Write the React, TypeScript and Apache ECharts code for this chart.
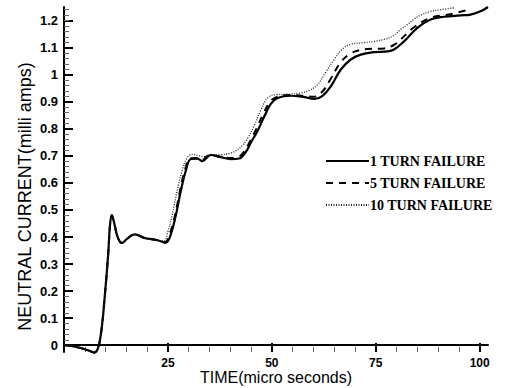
import React, { useEffect, useRef } from "react";
import * as echarts from "echarts";

const seriesNames = ["1 TURN FAILURE", "5 TURN FAILURE", "10 TURN FAILURE"];

const timeOne = [0, 2, 4, 6, 7.3, 8.2, 9, 9.8, 10.6, 11.1, 11.5, 12.1, 12.9, 13.9, 15.3, 17, 19.3, 22.5, 24.5, 25.7, 26.9, 28.1, 29.3, 30.5, 32.1, 33.3, 35.3, 37.7, 40.1, 42.1, 43.8, 45, 46.5, 48.2, 49.8, 51.4, 54.6, 57.8, 60.2, 62.2, 64.2, 66.6, 69, 71.4, 74.6, 77.8, 79.4, 81.8, 85, 88.2, 91.4, 95.4, 97.8, 100.2, 102];
const valueOne = [0, -0.003, -0.01, -0.02, -0.027, -0.01, 0.055, 0.18, 0.33, 0.45, 0.48, 0.45, 0.4, 0.378, 0.395, 0.41, 0.397, 0.388, 0.379, 0.41, 0.48, 0.57, 0.645, 0.688, 0.69, 0.68, 0.703, 0.695, 0.688, 0.69, 0.716, 0.75, 0.79, 0.846, 0.893, 0.914, 0.922, 0.917, 0.91, 0.922, 0.957, 1.019, 1.056, 1.074, 1.083, 1.086, 1.093, 1.123, 1.173, 1.204, 1.214, 1.219, 1.222, 1.234, 1.25];

const timeFive = [0, 2, 4, 6, 7.3, 8.2, 9, 9.8, 10.6, 11.1, 11.5, 12.1, 12.9, 13.9, 15.3, 17, 19.3, 22.5, 24.3, 25.5, 26.7, 27.9, 29.1, 30.3, 31.8, 33, 35, 37.5, 40, 42, 43.5, 44.8, 46.3, 48, 49.6, 51.2, 54.5, 57.5, 60, 62, 64, 66.3, 68.6, 71, 73, 77, 79.4, 81, 84.2, 88.2, 92.6, 97.3];
const valueFive = [0, -0.003, -0.01, -0.02, -0.027, -0.01, 0.055, 0.18, 0.33, 0.45, 0.48, 0.45, 0.4, 0.378, 0.395, 0.41, 0.397, 0.388, 0.38, 0.415, 0.48, 0.57, 0.648, 0.69, 0.692, 0.682, 0.703, 0.697, 0.692, 0.696, 0.72, 0.755, 0.8, 0.857, 0.9, 0.918, 0.925, 0.922, 0.918, 0.935, 0.98, 1.04, 1.075, 1.09, 1.095, 1.097, 1.11, 1.13, 1.175, 1.21, 1.222, 1.24];

const timeTen = [0, 2, 4, 6, 7.3, 8.2, 9, 9.8, 10.6, 11.1, 11.5, 12.1, 12.9, 13.9, 15.3, 17, 19.3, 22.5, 24, 25, 26, 27.2, 28.4, 29.7, 31, 32.5, 33.7, 35.5, 37.7, 40, 41.5, 43, 44.2, 45.7, 47.4, 49, 51, 54, 57, 59, 61, 63, 65, 67, 69, 72, 74.6, 77, 79.4, 81, 82.6, 84.2, 85.8, 88, 90.6, 93.8];
const valueTen = [0, -0.003, -0.01, -0.02, -0.027, -0.01, 0.055, 0.18, 0.33, 0.45, 0.48, 0.45, 0.4, 0.378, 0.395, 0.41, 0.397, 0.388, 0.385, 0.42, 0.48, 0.57, 0.645, 0.695, 0.705, 0.7, 0.697, 0.705, 0.704, 0.71, 0.72, 0.74, 0.765, 0.81, 0.87, 0.914, 0.926, 0.928, 0.932, 0.942, 0.963, 1.01, 1.056, 1.095, 1.112, 1.118, 1.123, 1.13, 1.145, 1.167, 1.185, 1.205, 1.22, 1.233, 1.24, 1.247];

const xLabelValues = [25, 50, 75, 100];
const yLabelValues = [0, 0.1, 0.2, 0.3, 0.4, 0.5, 0.6, 0.7, 0.8, 0.9, 1, 1.1, 1.2];
const xTickMax = 100;
const xTickInterval = 25;
const yTickMax = 1.2;
const yTickInterval = 0.1;
const yTopMinorMax = 1.24;
const yTopMinorInterval = 0.02;

const zip = (t: number[], v: number[]) => t.map((x, i) => [x, v[i]]);

export default function App() {
  const ref = useRef<HTMLDivElement>(null);
  useEffect(() => {
    if (!ref.current) return;
    const chart = echarts.init(ref.current, null, { renderer: "svg" });
    const W = 522, H = 388;
    const plot = { left: 64, right: 34, top: 7, bottom: 36 };
    const xMin = 0, xMax = 102, yMin = -0.025, yMax = 1.25;
    const pxPerX = (W - plot.left - plot.right) / (xMax - xMin);
    const pxPerY = (H - plot.top - plot.bottom) / (yMax - yMin);
    const xTickGridRight = plot.right + (xMax - xTickMax) * pxPerX;
    const yTickGridTop = plot.top + (yMax - yTickMax) * pxPerY;
    const yTickGridBottom = plot.bottom + (0 - yMin) * pxPerY;
    const yTopGridTop = plot.top + (yMax - yTopMinorMax) * pxPerY;
    const yTopGridBottom = plot.bottom + (yTickMax - yMin) * pxPerY;

    const labelFont = { fontFamily: "Liberation Sans, Arial, sans-serif", fontWeight: "bold" as const, fontSize: 13, color: "#000" };
    const majorTick = { show: true, inside: true, length: 9, lineStyle: { color: "#000", width: 2 } };
    const minorTick = { show: true, splitNumber: 5, length: 5, lineStyle: { color: "#666", width: 1 } };
    const hidden = { show: false };
    const gridBase = { containLabel: false, outerBoundsMode: "none" };

    chart.setOption({
      animation: false,
      backgroundColor: "#fff",
      grid: [
        { ...gridBase, ...plot },
        { ...gridBase, left: plot.left, right: xTickGridRight, top: plot.top, bottom: plot.bottom },
        { ...gridBase, left: plot.left, right: plot.right, top: yTickGridTop, bottom: yTickGridBottom },
        { ...gridBase, left: plot.left, right: plot.right, top: yTopGridTop, bottom: yTopGridBottom },
      ],
      legend: {
        orient: "vertical",
        left: 320,
        top: 149,
        itemWidth: 43,
        itemHeight: 14,
        itemGap: 8,
        data: seriesNames,
        itemStyle: { opacity: 0 },
        textStyle: { fontFamily: "Liberation Serif, Times New Roman, serif", fontWeight: "bold", fontSize: 14, color: "#000", padding: [0, 0, 0, -4] },
      },
      xAxis: [
        {
          gridIndex: 0, type: "value", min: xMin, max: xMax, position: "bottom",
          name: "TIME(micro seconds)", nameLocation: "middle", nameGap: 17, nameMoveOverlap: false,
          nameTextStyle: { fontFamily: "Liberation Sans, Arial, sans-serif", fontSize: 16, color: "#000" },
          axisLine: { show: true, lineStyle: { color: "#000", width: 2 } },
          axisTick: { show: false },
          axisLabel: { customValues: xLabelValues, margin: 5, ...labelFont, fontSize: 12 },
          splitLine: { show: false },
        },
        {
          gridIndex: 1, type: "value", min: 0, max: xTickMax, interval: xTickInterval, position: "bottom",
          axisLine: { show: false },
          axisTick: majorTick,
          minorTick: minorTick,
          axisLabel: { show: false },
          splitLine: { show: false },
        },
        { gridIndex: 2, type: "value", min: 0, max: 1, ...hidden },
        { gridIndex: 3, type: "value", min: 0, max: 1, ...hidden },
      ],
      yAxis: [
        {
          gridIndex: 0, type: "value", min: yMin, max: yMax, position: "left",
          name: "NEUTRAL CURRENT(milli amps)", nameLocation: "middle", nameGap: 30, nameRotate: 90, nameMoveOverlap: false,
          nameTextStyle: { fontFamily: "Liberation Sans, Arial, sans-serif", fontSize: 18, color: "#000", padding: [0, 34, 0, 0] },
          axisLine: { show: true, lineStyle: { color: "#000", width: 2 } },
          axisTick: { show: false },
          axisLabel: { customValues: yLabelValues, margin: 6, ...labelFont },
          splitLine: { show: false },
        },
        { gridIndex: 1, type: "value", min: 0, max: 1, ...hidden },
        {
          gridIndex: 2, type: "value", min: 0, max: yTickMax, interval: yTickInterval, position: "left",
          axisLine: { show: false },
          axisTick: majorTick,
          minorTick: minorTick,
          axisLabel: { show: false },
          splitLine: { show: false },
        },
        {
          gridIndex: 3, type: "value", min: yTickMax, max: yTopMinorMax, interval: yTopMinorInterval, position: "left",
          axisLine: { show: false },
          axisTick: { show: true, inside: true, length: 5, lineStyle: { color: "#666", width: 1 } },
          axisLabel: { show: false },
          splitLine: { show: false },
        },
      ],
      series: [
        {
          name: seriesNames[0], type: "line", xAxisIndex: 0, yAxisIndex: 0, data: zip(timeOne, valueOne), smooth: 0.4, showSymbol: false, symbol: "none", clip: false,
          lineStyle: { color: "#000", width: 2.2, type: "solid" },
        },
        {
          name: seriesNames[1], type: "line", xAxisIndex: 0, yAxisIndex: 0, data: zip(timeFive, valueFive), smooth: 0.4, showSymbol: false, symbol: "none", clip: false,
          lineStyle: { color: "#000", width: 2, type: [7, 6] },
        },
        {
          name: seriesNames[2], type: "line", xAxisIndex: 0, yAxisIndex: 0, data: zip(timeTen, valueTen), smooth: 0.4, showSymbol: false, symbol: "none", clip: false,
          lineStyle: { color: "#222", width: 1.3, type: [1, 1.5] },
        },
      ],
    });
    return () => chart.dispose();
  }, []);
  return <div ref={ref} style={{ width: 522, height: 388, position: "absolute", left: 0, top: 0 }} />;
}
